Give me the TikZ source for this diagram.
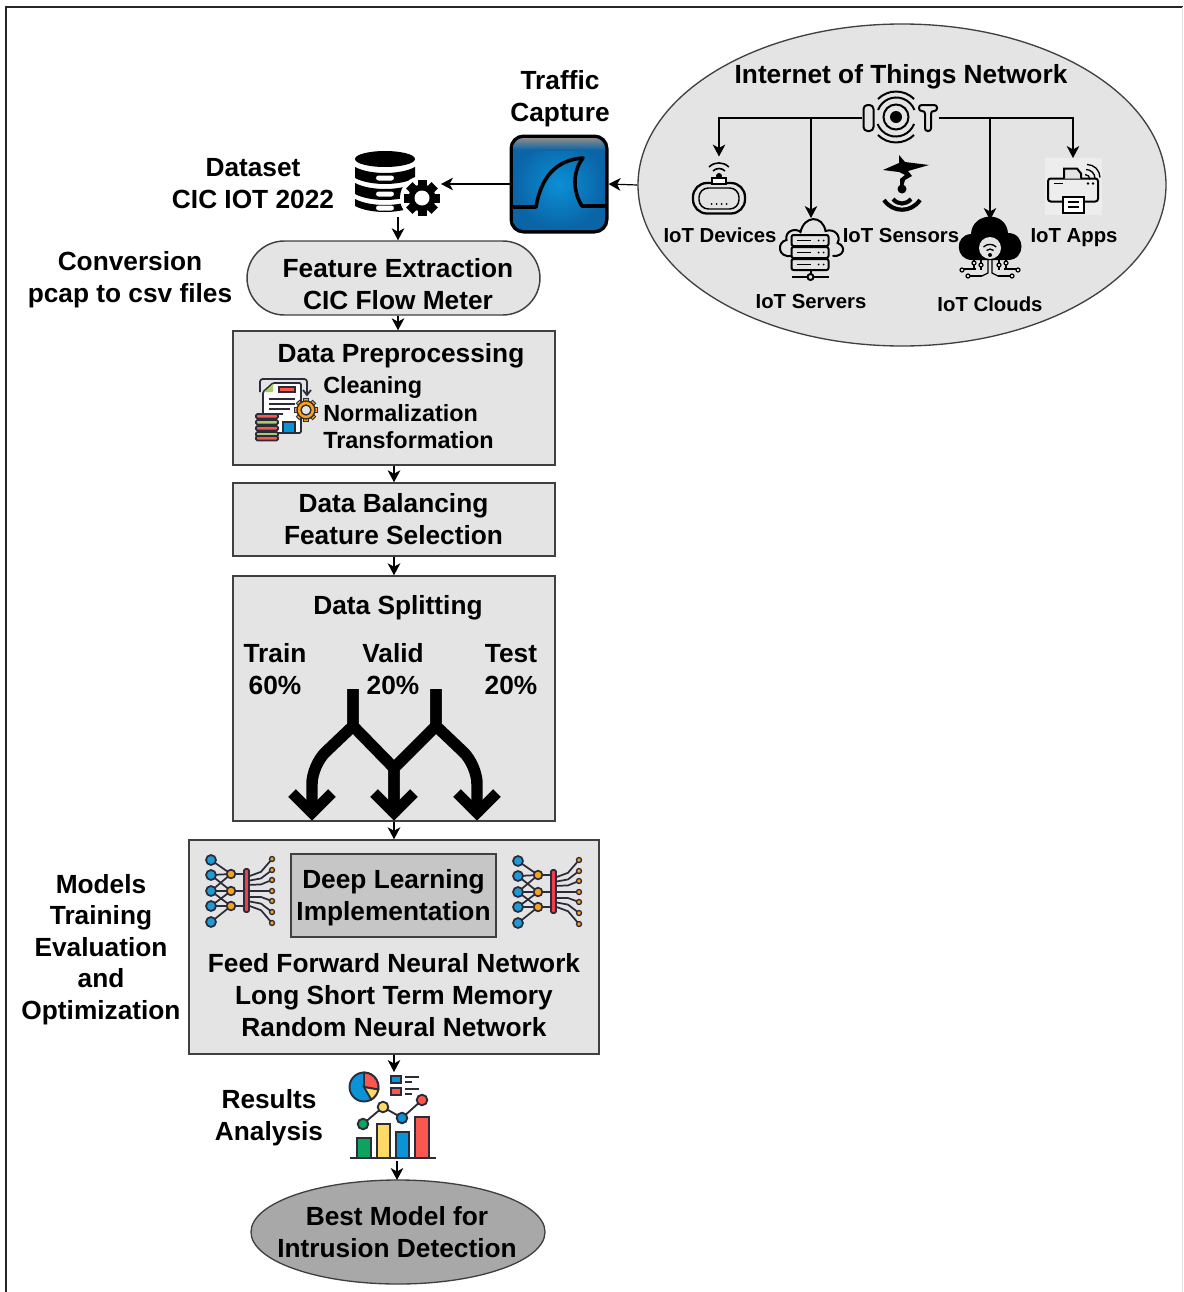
\documentclass[tikz,border=0pt]{standalone}
\usepackage{fontspec}
\setmainfont{Liberation Sans}
\usetikzlibrary{arrows.meta,shapes.geometric}
\definecolor{boxfill}{HTML}{E4E4E4}
\definecolor{boxline}{HTML}{404040}
\definecolor{innerfill}{HTML}{C6C6C6}
\definecolor{bestfill}{HTML}{A8A8A8}
\definecolor{wsblue}{HTML}{0A6DB2}
\definecolor{wsdark}{HTML}{0A64A6}
\definecolor{wslight}{HTML}{0C8FD6}
\definecolor{icblue}{HTML}{1E9BD7}
\definecolor{icorange}{HTML}{F9A31B}
\definecolor{icred}{HTML}{EF3F4F}
\definecolor{icdark}{HTML}{2B2B3A}
\definecolor{chgreen}{HTML}{0BA35E}
\definecolor{chyellow}{HTML}{FFD966}
\definecolor{chred}{HTML}{F9574F}
\definecolor{chblue}{HTML}{0A93D6}
\definecolor{docgreen}{HTML}{A9CC6B}
\tikzset{
  wsz/.style 2 args={minimum width=#1*0.75pt,minimum height=#2*0.75pt},
  lbl/.style={font=\bfseries\fontsize{19.7}{24}\selectfont,align=center,inner sep=0pt,text=black},
  lblsm/.style={font=\bfseries\fontsize{17.55}{22}\selectfont,align=left,inner sep=0pt,text=black},
  iotlbl/.style={font=\bfseries\fontsize{15.25}{19}\selectfont,inner sep=0pt,text=black},
  flowbox/.style={draw=boxline,fill=boxfill,line width=1.1pt,rectangle,inner sep=0pt,
     font=\bfseries\fontsize{19.7}{24}\selectfont,align=center,text=black},
  anchorbox/.style={inner sep=0pt,outer sep=0pt,rectangle},
  arr/.style={draw=black,line width=0.9pt,-{Stealth[length=9pt,width=9.5pt,inset=2.6pt]}},
  fork/.style={draw=black,line width=8.6pt,line join=round},
  chev/.style={draw=black,line width=8.2pt,line join=miter},
  ic/.style={line width=1.5pt,draw=black},
  nn/.style={line width=1.3pt,draw=icdark},
}
\newcommand{\gearshape}[3]{% R, toothhalfwidth, colour
  \foreach \a in {0,45,...,135}{\fill[#3,rotate=\a] (-#2,-#1) rectangle (#2,#1);}
}
\newcommand{\nnicon}[1]{%
 \begin{scope}[shift={(#1)}]
  \foreach \y/\t in {-31/-17,-16/-17,-16/0,0/-17,0/0,0/15,15/0,15/15,31/15}{\draw[nn] (0,\y) -- (20,\t);}
  \foreach \y in {-17,0,15}{\draw[nn] (20,\y) -- (36,\y);}
  \foreach \y/\t in {-32/-14,-21/-10,-11/-6,0/0,10/6,21/10,32/14}{\draw[nn] (61,\y) -- (50,\y*0.6) -- (36,\t);}
  \foreach \y in {-31,-16,0,15,31}{\draw[nn,fill=icblue] (0,\y) circle (5);}
  \foreach \y in {-17,0,15}{\draw[nn,fill=icorange] (20,\y) circle (4.3);}
  \foreach \y in {-32,-21,-11,0,10,21,32}{\draw[line width=1pt,draw=icdark,fill=icorange] (61,\y) circle (2.5);}
  \draw[nn,fill=icred,rounded corners=1pt] (33,-22) rectangle (38,21);
 \end{scope}}
\begin{document}
\begin{tikzpicture}[x=0.75pt,y=-0.75pt]
\useasboundingbox (0,0) rectangle (1183,1292);
% frame
\draw[line width=1.5pt,draw=black!85] (6,1292) -- (6,7) -- (1183,7);
\draw[line width=.5pt,draw=black!12] (1182,7) -- (1182,1292);

% IoT ellipse
\node[ellipse,draw=boxline,fill=boxfill,line width=1pt,inner sep=0pt,wsz={528}{322}] (net) at (902,185) {};
\node[lbl] (nettitle) at (901,77) {Internet of Things Network};

% anchors for the icons
\node[anchorbox,wsz={77}{54}] (iotlogo) at (900.5,118) {};
\node[anchorbox,wsz={52}{59}] (dev) at (719,186) {};
\coordinate (srvtop) at (811,218);
\coordinate (cloudtop) at (990,220);
\node[anchorbox,wsz={64}{60}] (srv) at (810.5,248) {};
\node[anchorbox,wsz={50}{60}] (sens) at (902,185) {};
\node[anchorbox,wsz={62}{60}] (cloud) at (990,248) {};
\node[anchorbox,wsz={57}{57}] (app) at (1073,186.5) {};

\draw[arr] (iotlogo.west) -| (dev.north);
\draw[arr] (iotlogo.west) -| (srvtop);
\draw[arr] (iotlogo.east) -| (app.north);
\draw[arr] (iotlogo.east) -| (cloudtop);

% IoT logo
\begin{scope}[shift={(iotlogo)}]
  \draw[ic,rounded corners=3pt] (-37,-13) rectangle (-27,13);
  \begin{scope}[shift={(-4.5,-1)}]
   \draw[ic,fill=none] (0,0) circle (12.5);
   \fill (0,0) circle (6);
   \draw[ic] (-18,-7) arc[start angle=201,end angle=339,radius=19.5];
   \draw[ic] (-18,-18) arc[start angle=225,end angle=315,radius=25.5];
   \draw[ic] (18,7) arc[start angle=21,end angle=159,radius=19.5];
   \draw[ic] (18,18) arc[start angle=45,end angle=135,radius=25.5];
  \end{scope}
  \draw[ic,rounded corners=2pt] (18.5,-13) -- (36.5,-13) -- (36.5,-7) -- (30.5,-7) -- (30.5,13) -- (24.5,13) -- (24.5,-7) -- (18.5,-7) -- cycle;
\end{scope}

% device icon
\begin{scope}[shift={(dev)}]
  \draw[line width=1.7pt,rounded corners=10.5pt] (-26,-3) rectangle (26,27.5);
  \draw[line width=1.1pt,rounded corners=7pt] (-20,2) rectangle (20,23);
  \fill[white,draw=black,line width=1.4pt] (-7,-8) rectangle (7,-2);
  \fill (0,-10) circle (3);
  \draw[line width=1.2pt] (-6,-15) arc[start angle=225,end angle=315,radius=8.5];
  \draw[line width=1.2pt] (-10,-19) arc[start angle=225,end angle=315,radius=14];
  \foreach \x in {-7.5,-2.5,2.5,7.5}{\fill (\x,18) circle (1);}
\end{scope}
\node[iotlbl] (devlbl) at (720,235) {IoT Devices};

% server icon
\begin{scope}[shift={(srv)}]
  \draw[ic,fill=boxfill] (-19,8) .. controls (-33,10) and (-34,-6) .. (-24,-8) .. controls (-26,-18) and (-14,-20) .. (-10,-16) .. controls (-6,-33) and (12,-33) .. (15,-17) .. controls (24,-20) and (31,-12) .. (27,-5) .. controls (36,-2) and (34,9) .. (22,8);
  \foreach \y in {-13,-1,11}{
    \draw[ic,fill=boxfill,rounded corners=1.5pt] (-19,\y) rectangle (18,\y+11);
    \draw[line width=1.2pt] (-14,\y+5.5) -- (0,\y+5.5);
    \fill (8,\y+5.5) circle (1) (13,\y+5.5) circle (1);
  }
  \draw[ic] (0,22) -- (0,26);
  \draw[ic] (-19,29) -- (18,29);
  \draw[ic,fill=boxfill] (0,29) circle (3);
\end{scope}
\node[iotlbl] (srvlbl) at (811,301) {IoT Servers};

% sensor icon
\begin{scope}[shift={(sens)}]
  \fill (-3,-30) -- (3,-23) -- (27,-20) -- (6,-14) -- (10,-9) -- (3,-5) -- (1,2) -- (-2,2) -- (-2,-6) -- (3,-10) -- (-3,-13) -- (-19,-15) -- (-3,-22) -- cycle;
  \fill (0,4) circle (4.5);
  \draw[line width=3.1pt] (-9,14) .. controls (-4,20) and (4,20) .. (9,14);
  \draw[line width=3.1pt] (-18,15) .. controls (-9,28) and (9,28) .. (18,15);
\end{scope}
\node[iotlbl] (senslbl) at (901,235) {IoT Sensors};

% cloud icon
\begin{scope}[shift={(cloud)}]
  \fill (-18,12) .. controls (-35,12) and (-36,-13) .. (-19,-14) .. controls (-18,-36) and (16,-38) .. (18,-15) .. controls (36,-15) and (36,12) .. (18,12) -- cycle;
  \fill[boxfill] (0,0) circle (11);
  \fill (0,7) circle (2);
  \draw[line width=1pt] (-3.5,2.5) arc[start angle=225,end angle=315,radius=5];
  \draw[line width=1pt] (-6.5,-1) arc[start angle=225,end angle=315,radius=9];
  \begin{scope}[line width=.9pt]
  \draw (-2,12) -- (-2,25) -- (-8,28) (2,12) -- (2,25) -- (8,28);
  \draw (-16,12) -- (-16,22) (16,12) -- (16,22) (-9,12) -- (-9,22) (9,12) -- (9,22);
  \draw (-28,21) -- (-14,21) (28,21) -- (14,21) (-8,28) -- (-22,28) (8,28) -- (22,28);
  \foreach \x/\y in {-28/22,-22/28,-16/15,-9/17,28/22,22/28,16/15,9/17}{\draw[fill=boxfill] (\x,\y) circle (2);}
  \end{scope}
\end{scope}
\node[iotlbl] (cloudlbl) at (990,304) {IoT Clouds};

% app icon
\begin{scope}[shift={(app)}]
  \fill[white!35!boxfill] (-28.5,-28.5) rectangle (28.5,28.5);
  \draw[ic,fill=none,rounded corners=2pt] (-25,-8) rectangle (25,15);
  \draw[ic,fill=boxfill] (-9,-8) -- (-9,-18) -- (4,-18) -- (8,-13) -- (8,-8);
  \draw[ic,fill=white] (-10,10.5) rectangle (11,26);
  \draw[line width=1.1pt] (-5,15.5) -- (6,15.5) (-5,20.5) -- (6,20.5);
  \draw[line width=1.2pt] (-19,-3) -- (-10,-3);
  \fill (15,-3) circle (1.3) (20,-3) circle (1.3);
  \draw[line width=1pt] (12,-12) arc[start angle=-90,end angle=0,radius=5];
  \draw[line width=1pt] (13,-17) arc[start angle=-90,end angle=0,radius=9];
  \draw[line width=1pt] (14,-22) arc[start angle=-90,end angle=0,radius=13];
\end{scope}
\node[iotlbl] (applbl) at (1074,238) {IoT Apps};

% Wireshark
\node[draw=black,line width=3pt,fill=wsblue,rounded corners=9pt,inner sep=0pt,wsz={95}{95}] (shark) at (559,184) {};
\begin{scope}
 \clip[rounded corners=8pt] (513,138) rectangle (605,230);
 \shade[inner color=wslight,outer color=wsdark] (513,138) rectangle (605,230);
 \shade[top color=black!45,bottom color=wsdark] (513,138) rectangle (605,150);
\end{scope}
\draw[line width=2.7pt,draw=black,line join=round] (512,207) -- (536,207) .. controls (541,178) and (555,160) .. (583,158) .. controls (572,172) and (573,192) .. (582,206) -- (606,206);
\node[lbl] (traffic) at (560,98.5) {Traffic\\Capture};

% Database
\node[anchorbox,wsz={86}{66}] (db) at (398,184) {};
\begin{scope}[shift={(385,159)}]
  \fill (0,0) ellipse (30 and 8);
  \fill (-30,8) .. controls (-15,16) and (15,16) .. (30,8) -- (30,19) .. controls (15,27) and (-15,27) .. (-30,19) -- cycle;
  \fill (-30,24) .. controls (-15,32) and (15,32) .. (30,24) -- (30,35) .. controls (15,43) and (-15,43) .. (-30,35) -- cycle;
  \fill (-30,40) .. controls (-15,48) and (15,48) .. (30,40) -- (30,47) .. controls (15,55) and (-15,55) .. (-30,47) -- cycle;
  \fill[white,rounded corners=2pt] (-9,16.5) rectangle (9,21.5);
  \fill[white,rounded corners=2pt] (-9,32.5) rectangle (9,37.5);
  \fill[white,rounded corners=2pt] (-9,46.5) rectangle (9,51.5);
\end{scope}
\begin{scope}[shift={(422,198)}]
  \fill[white] (0,0) circle (22);
  \gearshape{18}{4.5}{black}
  \fill (0,0) circle (13.5);
  \fill[white] (0,0) circle (7.5);
\end{scope}
\node[lbl] (dataset) at (253,183.5) {Dataset\\CIC IOT 2022};
\draw[arr] (shark.west) -- (db.east);
\draw[arr] (net.west) -- (shark.east);

% Flow
\node[flowbox,rounded corners=28pt,wsz={293}{74}] (feat) at (393.5,278) {};
\node[lbl] (feattxt) at (398,284.5) {Feature Extraction\\CIC Flow Meter};
\node[lbl] (conv) at (130,279.5) {Conversion\\pcap to csv files};

\node[flowbox,wsz={322}{134}] (prep) at (394,398) {};
\node[lbl] (preptitle) at (401,356) {Data Preprocessing};
\node[lblsm,anchor=west] (clean) at (323,387) {Cleaning};
\node[lblsm,anchor=west] (norm) at (323,413) {Normalization};
\node[lblsm,anchor=west] (trans) at (323,440) {Transformation};
% document icon
\begin{scope}[line width=1.3pt,draw=icdark]
  \draw[rounded corners=1pt,fill=white] (273,383) -- (301,383) -- (301,433) -- (263,433) -- (263,392) -- cycle;
  \fill[docgreen] (273,384) -- (264,392) -- (273,392) -- cycle;
  \draw[fill=chred] (279,387) rectangle (295,392);
  \draw (269,399) -- (295,399) (269,404) -- (295,404) (269,409) -- (290,409) (269,414) -- (283,414);
  \draw[fill=chblue] (283,422) rectangle (295,433);
  \draw[rounded corners=2pt] (260,392) -- (260,379) -- (307,379) -- (307,394);
  \draw (303,390) -- (307,395) -- (311,390);
  \foreach \y/\c in {414/chred,420/docgreen,426/chred,432/docgreen,436/chred}{\draw[fill=\c,rounded corners=1pt] (256,\y) rectangle (278,\y+4.5);}
\end{scope}
\begin{scope}[shift={(306,410)}]
  \gearshape{12}{2.6}{icdark}
  \gearshape{10.8}{1.7}{icorange}
  \draw[icdark,line width=1pt,fill=icorange] (0,0) circle (9);
  \draw[icdark,line width=1pt,fill=boxfill] (0,0) circle (5);
\end{scope}

\node[flowbox,wsz={322}{73}] (bal) at (394,519.5) {};
\node[lbl] (baltxt) at (393.5,519) {Data Balancing\\Feature Selection};

\node[flowbox,wsz={322}{245}] (split) at (394,698.5) {};
\node[lbl] (splittitle) at (398,608) {Data Splitting};
\node[lbl] (train) at (275,669.5) {Train\\60\%};
\node[lbl] (valid) at (393,669.5) {Valid\\20\%};
\node[lbl] (test) at (511,669.5) {Test\\20\%};
\draw[fork] (353,689) -- (353,726) [rounded corners=14pt] -- (312,765) -- (312,815);
\draw[fork] (353,689) -- (353,726) -- (394,768) -- (394,815);
\draw[fork] (436,689) -- (436,726) -- (394,768) -- (394,815);
\draw[fork] (436,689) -- (436,726) [rounded corners=14pt] -- (477,765) -- (477,815);
\foreach \x in {312,394,477}{\draw[chev] (\x-20,793) -- (\x,813) -- (\x+20,793);}

\node[flowbox,wsz={410}{214}] (models) at (394,947) {};
\node[flowbox,fill=innerfill,wsz={205}{83},line width=1pt] (deep) at (393.5,895.5) {};
\node[lbl] (deeptxt) at (393.5,898) {Deep Learning\\Implementation};
\nnicon{211,891}
\nnicon{518,892}
\node[lbl,align=center] (nets) at (394,995) {Feed Forward Neural Network\\Long Short Term Memory\\Random Neural Network};
\node[lbl] (mte) at (101,949.5) {Models\\[-0.4pt]Training\\[-0.4pt]Evaluation\\[-0.4pt]and\\[-0.4pt]Optimization};

% chart
\node[anchorbox,wsz={88}{88}] (chart) at (393,1116) {};
\coordinate (chartout) at (397,1161);
\coordinate (besttop) at (397,1180);
\begin{scope}[line width=1.4pt,draw=icdark]
  \draw[fill=chblue] (364,1087) circle (14.5);
  \draw[fill=chred] (364,1087) -- (364,1072.5) arc[start angle=-90,end angle=10,radius=14.5] -- cycle;
  \draw[fill=chyellow] (364,1087) -- (378.3,1089.5) arc[start angle=10,end angle=60,radius=14.5] -- cycle;
  \draw[fill=chblue] (391,1076) rectangle (401,1083);
  \draw[fill=chred] (391,1088) rectangle (401,1095);
  \draw (405,1077) -- (419,1077) (405,1082) -- (412,1082) (405,1089) -- (419,1089) (405,1094) -- (412,1094);
  \draw (363,1124) -- (383,1107) -- (402,1118) -- (422,1100);
  \draw[fill=chgreen] (357,1138) rectangle (371,1158);
  \draw[fill=chyellow] (377,1124) rectangle (390,1158);
  \draw[fill=chblue] (396,1132) rectangle (409,1158);
  \draw[fill=chred] (415,1117) rectangle (429,1158);
  \draw[fill=chgreen] (363,1124) circle (5.3);
  \draw[fill=chyellow] (383,1107) circle (5.3);
  \draw[fill=chblue] (402,1118) circle (5.3);
  \draw[fill=chred] (422,1100) circle (5.3);
\end{scope}
\draw[line width=1.4pt,draw=icdark] (350,1158) -- (436,1158);
\node[lbl] (results) at (269,1117.5) {Results\\Analysis};

\node[ellipse,draw=boxline,fill=bestfill,line width=1pt,inner sep=0pt,wsz={294}{104}] (best) at (398,1232) {};
\node[lbl] (besttxt) at (397,1232.5) {Best Model for\\Intrusion Detection};

% connectors
\draw[arr] (db.south) -- (feat.north -| db.south);
\draw[arr] (feat.south -| db.south) -- (prep.north -| db.south);
\draw[arr] (prep.south) -- (bal.north);
\draw[arr] (bal.south) -- (split.north);
\draw[arr] (split.south) -- (models.north);
\draw[arr] (models.south) -- (chart.north -| models.south);
\draw[arr] (chartout) -- (besttop);
\end{tikzpicture}
\end{document}
